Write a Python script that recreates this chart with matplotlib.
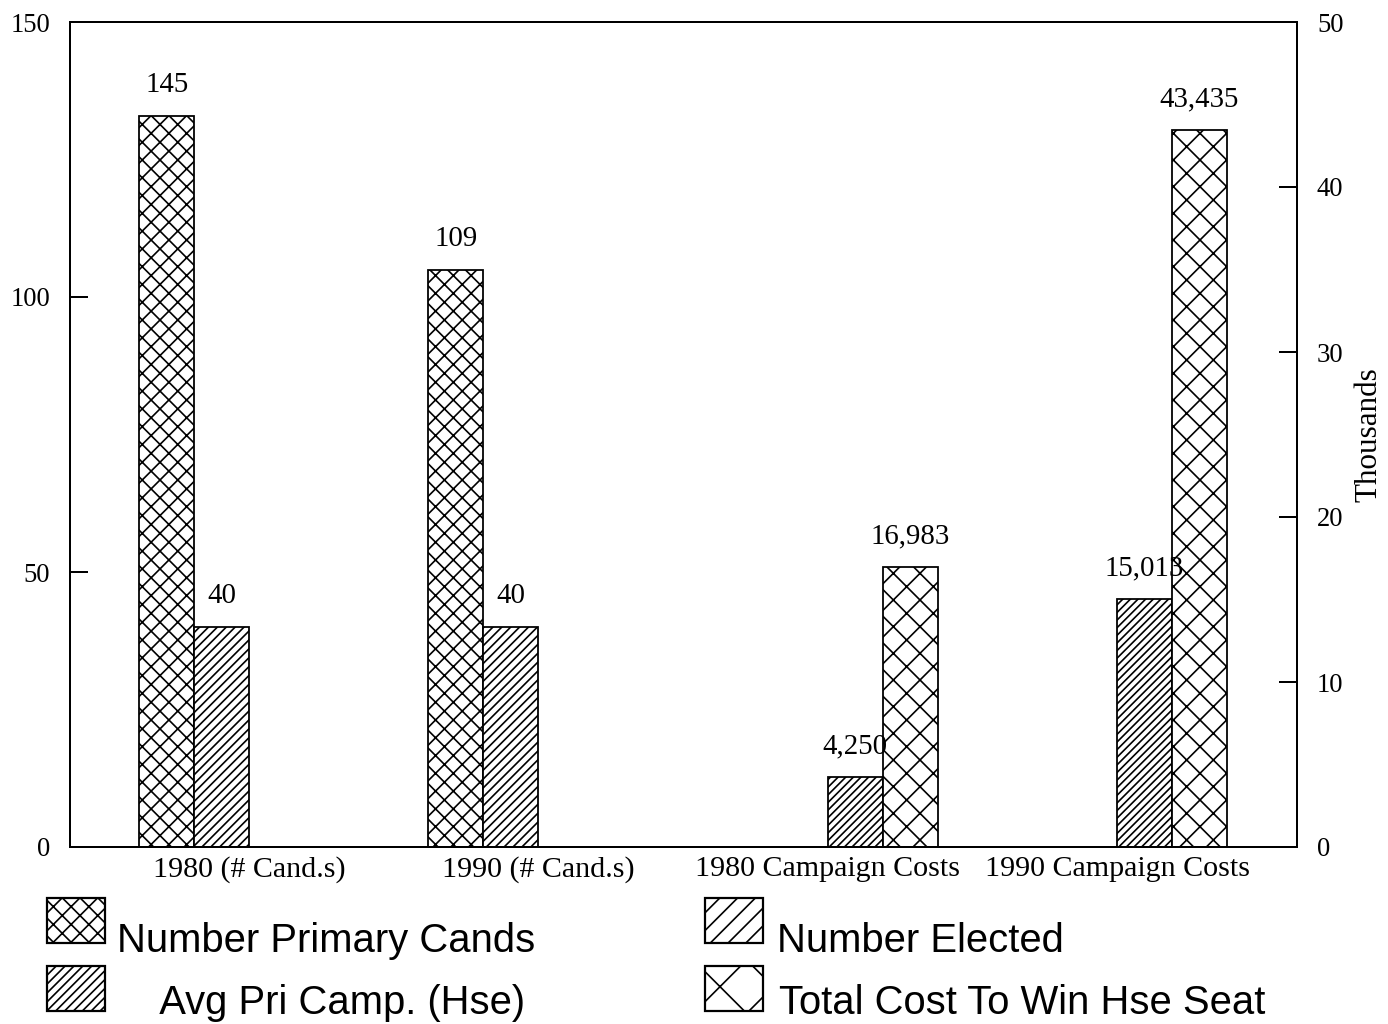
import matplotlib.pyplot as plt
from matplotlib.patches import Rectangle

plt.rcParams["hatch.linewidth"] = 0.75
plt.rcParams["font.family"] = "Liberation Serif"

categories = ["1980 (# Cand.s)", "1990 (# Cand.s)", "1980 Campaign Costs", "1990 Campaign Costs"]

# left axis series (counts), None = not shown in that group
primary_cands = [133, 105, None, None]
primary_cands_labels = ["145", "109", None, None]
number_elected = [40, 40, None, None]
number_elected_labels = ["40", "40", None, None]

# right axis series (thousands of dollars)
avg_pri_camp = [None, None, 4.25, 15.013]
avg_pri_camp_labels = [None, None, "4,250", "15,013"]
total_cost = [None, None, 16.983, 43.435]
total_cost_labels = [None, None, "16,983", "43,435"]

legend_names = ["Number Primary Cands", "    Avg Pri Camp. (Hse)",
                "Number Elected", "Total Cost To Win Hse Seat"]

W, H, DPI = 1388, 1024, 160
fig = plt.figure(figsize=(W / DPI, H / DPI), dpi=DPI)
ax = fig.add_axes([70 / W, 177 / H, 1227 / W, 825 / H])
ax2 = ax.twinx()

bw = 0.19
x = list(range(len(categories)))


def draw(axis, vals, labels, slot, hatch):
    xs = [xi + (slot - 1.5) * bw for xi, v in zip(x, vals) if v is not None]
    ys = [v for v in vals if v is not None]
    labs = [l for l, v in zip(labels, vals) if v is not None]
    bars = axis.bar(xs, ys, width=bw, color="white", edgecolor="black",
                    linewidth=0.8, hatch=hatch)
    for b, lab in zip(bars, labs):
        axis.annotate(lab, (b.get_x() + b.get_width() / 2, b.get_height()),
                      xytext=(0, 8), textcoords="offset points",
                      ha="center", va="bottom", fontsize=13)


draw(ax, primary_cands, primary_cands_labels, 0, "xxx")
draw(ax, number_elected, number_elected_labels, 1, "//////")
draw(ax2, avg_pri_camp, avg_pri_camp_labels, 2, "///////")
draw(ax2, total_cost, total_cost_labels, 3, "xx")

ax.set_xlim(-0.619, 3.622)
ax.set_ylim(0, 150)
ax2.set_ylim(0, 50)
ax.set_yticks([0, 50, 100, 150])
ax2.set_yticks([0, 10, 20, 30, 40, 50])
ax.set_xticks(x)
ax.set_xticklabels(categories, fontsize=13.5)
ax.tick_params(axis="x", length=0, pad=4)
ax.tick_params(axis="y", direction="in", length=8, width=0.9, pad=9, labelsize=12)
ax2.tick_params(axis="y", direction="in", length=8, width=0.9, pad=9, labelsize=12)
ax2.set_ylabel("Thousands", fontsize=14, labelpad=5)

for a in (ax, ax2):
    for s in a.spines.values():
        s.set_linewidth(0.9)

# legend drawn by hand: the text sits lower than the swatches
legend_hatches = ["xxx", "//////", "///", "x"]
swatch_x = [47, 47, 705, 705]
swatch_top = [898, 966, 898, 966]
text_x = [117, 117, 777, 779]
text_base = [952, 1014, 952, 1014]
for name, hatch, sx, st, tx, tb in zip(legend_names, legend_hatches, swatch_x,
                                       swatch_top, text_x, text_base):
    fig.add_artist(Rectangle((sx / W, 1 - (st + 45) / H), 58 / W, 45 / H,
                             transform=fig.transFigure, facecolor="white",
                             edgecolor="black", linewidth=1.0, hatch=hatch))
    fig.text(tx / W, 1 - tb / H, name, fontsize=18, family="Liberation Sans",
             ha="left", va="baseline")

fig.savefig("out.png", dpi=DPI)
